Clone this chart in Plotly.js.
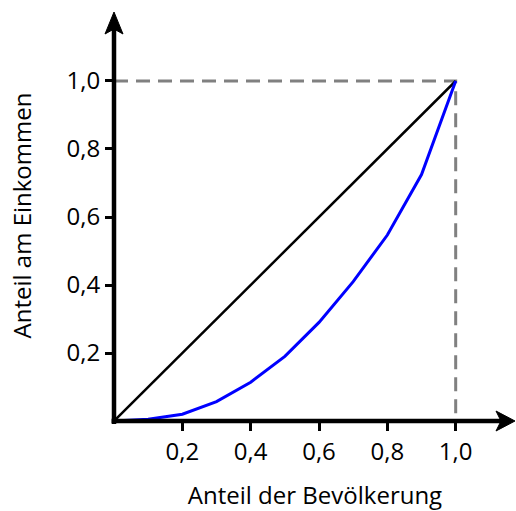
<!DOCTYPE html>
<html>
<head>
<meta charset="utf-8">
<script src="https://cdn.plot.ly/plotly-3.0.1.min.js"></script>
<style>html,body{margin:0;padding:0;background:#fff;}#chart{width:516px;height:511px;}</style>
</head>
<body>
<div id="chart"></div>
<script>
// Lorenz curve data
const populationShare = [0, 0.1, 0.2, 0.3, 0.4, 0.5, 0.6, 0.7, 0.8, 0.9, 1.0];
const incomeShare     = [0, 0.005, 0.02, 0.057, 0.114, 0.19, 0.29, 0.41, 0.547, 0.725, 1.0];
// line of perfect equality
const equalityX = [0, 1];
const equalityY = [0, 1];
// dashed guide to the (1,1) corner
const guideX = [0, 1, 1];
const guideY = [1, 1, 0];
const tickValues = [0.2, 0.4, 0.6, 0.8, 1.0];
const xTitle = 'Anteil der Bevölkerung';
const yTitle = 'Anteil am Einkommen';

const font = {family: 'Open Sans, DejaVu Sans, sans-serif', size: 24, color: '#000'};

const traces = [
  {x: guideX, y: guideY, mode: 'lines', cliponaxis: false, hoverinfo: 'skip',
   line: {color: '#808080', width: 3, dash: '14px,8px'}},
  {x: equalityX, y: equalityY, mode: 'lines', cliponaxis: false,
   line: {color: '#000000', width: 2.5}},
  {x: populationShare, y: incomeShare, mode: 'lines', cliponaxis: false,
   line: {color: '#0000ff', width: 3}}
];

// axis arrows in paper coordinates (plot area = whole right/top part)
const X_TIP = 0.9975, Y_TIP = 0.9951;
const layout = {
  width: 516, height: 511,
  margin: {l: 114, r: 0, t: 10, b: 90},
  paper_bgcolor: '#fff', plot_bgcolor: '#fff',
  separators: ',.',
  showlegend: false,
  font: font,
  xaxis: {
    range: [0, 1.1765], showgrid: false, zeroline: false, showline: false,
    tickvals: tickValues, tickformat: '.1f', ticks: 'outside', ticklen: 9, tickwidth: 3,
    tickcolor: '#000', tickfont: font, fixedrange: true,
    title: {text: xTitle, font: font, standoff: 24}
  },
  yaxis: {
    range: [0, 1.2088], showgrid: false, zeroline: false, showline: false,
    tickvals: tickValues, tickformat: '.1f', ticks: 'outside', ticklen: 8, tickwidth: 3,
    tickcolor: '#000', tickfont: font, fixedrange: true,
    title: {text: yTitle, font: font, standoff: 28}
  },
  shapes: [
    // axis lines
    {type: 'line', xref: 'paper', yref: 'paper', x0: -0.006, y0: 0, x1: X_TIP - 0.03, y1: 0,
     line: {color: '#000', width: 4.5}},
    {type: 'line', xref: 'paper', yref: 'paper', x0: 0, y0: -0.007, x1: 0, y1: Y_TIP - 0.03,
     line: {color: '#000', width: 4.5}},
    // arrow heads (pixel-sized, anchored at axis ends)
    {type: 'path', xref: 'paper', yref: 'paper', xsizemode: 'pixel', ysizemode: 'pixel',
     xanchor: X_TIP, yanchor: 0, path: 'M0,0 L-19,10 L-14,0 L-19,-10 Z',
     fillcolor: '#000', line: {color: '#000', width: 1}},
    {type: 'path', xref: 'paper', yref: 'paper', xsizemode: 'pixel', ysizemode: 'pixel',
     xanchor: 0, yanchor: Y_TIP, path: 'M0,0 L-9,-22 L0,-17 L9,-22 Z',
     fillcolor: '#000', line: {color: '#000', width: 1}}
  ]
};

Plotly.newPlot('chart', traces, layout, {displayModeBar: false, staticPlot: true});
</script>
</body>
</html>
